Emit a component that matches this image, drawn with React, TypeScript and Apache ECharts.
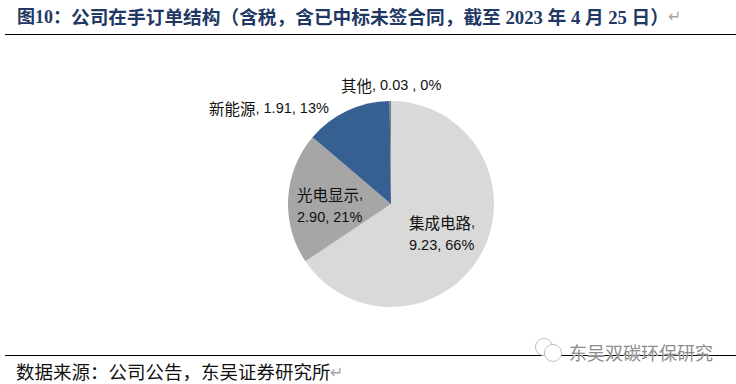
import React, { useEffect, useRef } from "react";
import * as echarts from "echarts";

const categories = ["集成电路", "光电显示", "新能源", "其他"];
const values = [9.23, 2.9, 1.91, 0.03];
const valueLabels = ["9.23", "2.90", "1.91", "0.03 "];
const percents = ["66%", "21%", "13%", "0%"];
const colors = ["#D9D9D9", "#A6A6A6", "#376092", "#7F7F7F"];
const titleHead = "图10\uFF1A";
const titleBody = "公司在手订单结构\uFF08含税\uFF0C含已中标未签合同\uFF0C截至 2023 年 4 月 25 日\uFF09";
const sourceText = "数据来源\uFF1A公司公告\uFF0C东吴证券研究所";
const watermark = "东吴双碳环保研究";
const labelAnchors = [
  { x: 409, y: 233 },
  { x: 297, y: 205 },
  { x: 209, y: 108 },
  { x: 341, y: 85 },
];
const labelBreaks = [true, true, false, false];

const SERIF = '"Liberation Serif","Noto Sans CJK SC",serif';
const SANS = '"Liberation Sans","Noto Sans CJK SC",sans-serif';
const CJK = '"Noto Sans CJK SC",sans-serif';

export default function App() {
  const ref = useRef<HTMLDivElement>(null);
  useEffect(() => {
    document.body.style.margin = "0";
    const chart = echarts.init(ref.current!, undefined, { renderer: "svg" });
    chart.setOption({
      animation: false,
      backgroundColor: "#ffffff",
      series: [
        {
          type: "pie",
          center: [391, 204],
          radius: [0, 103],
          startAngle: 90,
          clockwise: true,
          silent: true,
          itemStyle: { borderWidth: 0 },
          labelLine: { show: false },
          label: {
            show: true,
            position: "outside",
            color: "#111111",
            rich: {
              c: { fontFamily: CJK, fontSize: 15.5, lineHeight: 23, color: "#111111" },
              n: { fontFamily: SANS, fontSize: 14.5, lineHeight: 23, color: "#111111" },
            },
          },
          labelLayout: (p: any) => {
            const a = labelAnchors[p.dataIndex];
            return { x: a.x, y: a.y, align: "left", verticalAlign: "middle", hideOverlap: false };
          },
          data: categories.map((name, i) => ({
            name,
            value: values[i],
            itemStyle: { color: colors[i] },
            label: {
              formatter: labelBreaks[i]
                ? `{c|${name}}{n|,}\n{n|${valueLabels[i]}, ${percents[i]}}`
                : `{c|${name}}{n|, ${valueLabels[i]}, ${percents[i]}}`,
            },
          })),
        },
      ],
      graphic: [
        { type: "line", shape: { x1: 5, y1: 34.5, x2: 736, y2: 34.5 }, style: { stroke: "#000", lineWidth: 1 } },
        { type: "line", shape: { x1: 5, y1: 355.5, x2: 736, y2: 355.5 }, style: { stroke: "#000", lineWidth: 1 } },
        {
          type: "text", x: 17, y: 17,
          style: { text: titleHead, fontFamily: SERIF, fontWeight: "bold", fontSize: 18, fill: "#1F3864", verticalAlign: "middle" },
        },
        {
          type: "text", x: 71, y: 17,
          style: { text: titleBody, fontFamily: SERIF, fontWeight: "bold", fontSize: 18.7, fill: "#1F3864", verticalAlign: "middle" },
        },
        {
          type: "text", x: 668, y: 16,
          style: { text: "↵", fontFamily: "DejaVu Sans", fontSize: 16, fill: "#A6A6A6", verticalAlign: "middle" },
        },
        {
          type: "text", x: 16, y: 371,
          style: { text: sourceText, fontFamily: CJK, fontSize: 18.5, fill: "#111111", verticalAlign: "middle" },
        },
        {
          type: "text", x: 330, y: 372,
          style: { text: "↵", fontFamily: "DejaVu Sans", fontSize: 16, fill: "#A6A6A6", verticalAlign: "middle" },
        },
        { type: "circle", shape: { cx: 544, cy: 347, r: 8.5 }, style: { fill: "#fff", stroke: "#BFBFBF", lineWidth: 1 } },
        { type: "circle", shape: { cx: 553, cy: 353, r: 8.5 }, style: { fill: "#fff", stroke: "#BFBFBF", lineWidth: 1 } },
        {
          type: "text", x: 569, y: 352,
          style: { text: watermark, fontFamily: CJK, fontSize: 18, fill: "#8C8C8C", stroke: "#fff", lineWidth: 0.5, verticalAlign: "middle" },
        },
      ],
    });
    return () => chart.dispose();
  }, []);
  return <div ref={ref} style={{ width: 736, height: 384 }} />;
}
